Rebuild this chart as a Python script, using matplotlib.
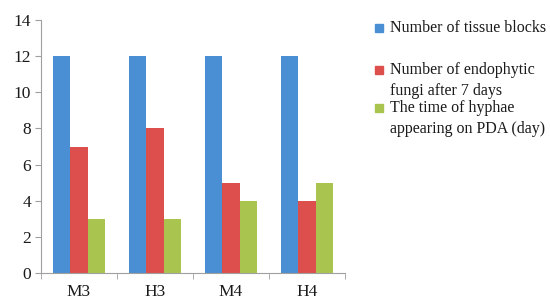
import matplotlib.pyplot as plt
import numpy as np
from matplotlib.patches import Rectangle

samples = ['M3', 'H3', 'M4', 'H4']
tissue_blocks = [12, 12, 12, 12]
endophytic_fungi = [7, 8, 5, 4]
hyphae_days = [3, 3, 4, 5]
series_labels = ['Number of tissue blocks',
                 'Number of endophytic\nfungi after 7 days',
                 'The time of hyphae\nappearing on PDA (day)']
colors = ['#4a8fd3', '#dc4f4c', '#a9c44f']

plt.rcParams['font.family'] = ['Liberation Serif', 'DejaVu Serif']

fig = plt.figure(figsize=(5.5, 2.99), dpi=100)
ax = fig.add_axes([41 / 550, 1 - 273 / 299, 304 / 550, 253 / 299])

x = np.arange(len(samples))
w = 0.225
for k, vals in enumerate([tissue_blocks, endophytic_fungi, hyphae_days]):
	ax.bar(x + (k - 1) * w, vals, width=w, color=colors[k], label=series_labels[k])

ax.set_xlim(-0.5, 3.5)
ax.set_ylim(0, 14)
ax.set_yticks(range(0, 15, 2))
ax.set_xticks(x)
ax.set_xticklabels(samples)
ax.set_xticks(np.arange(-0.5, 4, 1), minor=True)
ax.tick_params(axis='x', which='major', length=0, pad=8, labelsize=12.5, labelcolor='#1a1a1a')
ax.tick_params(axis='x', which='minor', length=4, color='#a0a0a0', direction='out')
ax.tick_params(axis='y', length=4, color='#a0a0a0', labelsize=12.5, pad=3, labelcolor='#1a1a1a')
for s in ['top', 'right']:
	ax.spines[s].set_visible(False)
for s in ['left', 'bottom']:
	ax.spines[s].set_color('#a0a0a0')

# legend drawn by hand to keep the uneven spacing of the original
legend_y = [28, 70, 108]
for k in range(3):
	yy = 1 - legend_y[k] / 299
	fig.patches.append(Rectangle((375 / 550, yy - 4 / 299), 8 / 550, 8 / 299,
								 transform=fig.transFigure, color=colors[k]))
	fig.text(390 / 550, yy + 8 / 299, series_labels[k], fontsize=11.5, va='top',
			 ha='left', linespacing=1.42, color='#1a1a1a')

fig.savefig('out.png', dpi=100)
